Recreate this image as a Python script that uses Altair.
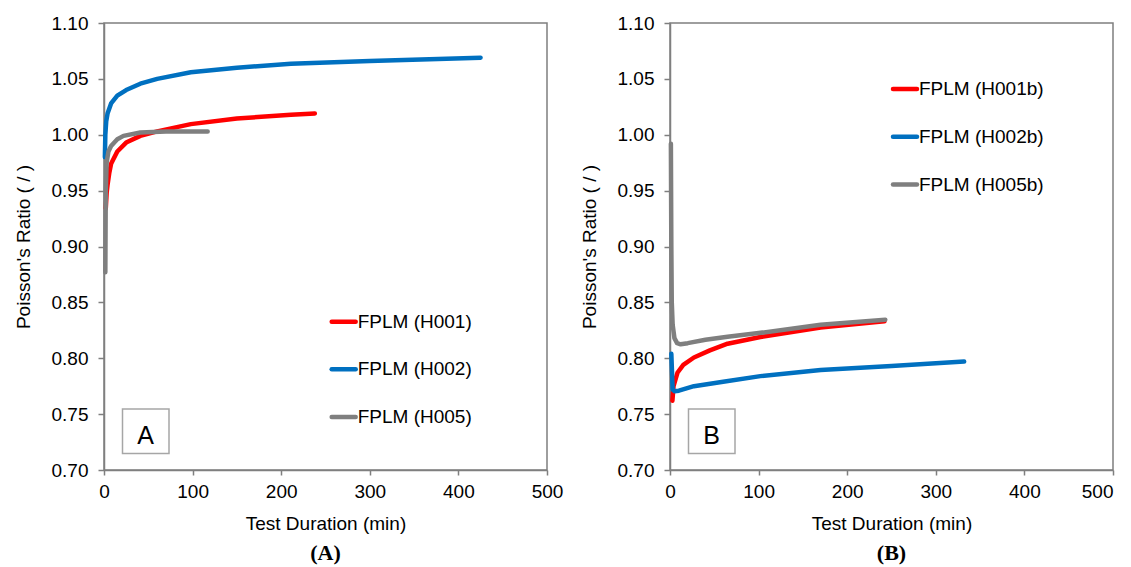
import altair as alt
import pandas as pd

X_TICKS = [0, 100, 200, 300, 400, 500]
Y_TICKS = [0.70, 0.75, 0.80, 0.85, 0.90, 0.95, 1.00, 1.05, 1.10]
X_TITLE = "Test Duration (min)"
Y_TITLE = "Poisson's Ratio ( / )"

COLORS = ["#FF0000", "#0070C0", "#7F7F7F"]
A_NAMES = ["FPLM (H001)", "FPLM (H002)", "FPLM (H005)"]
B_NAMES = ["FPLM (H001b)", "FPLM (H002b)", "FPLM (H005b)"]

# Panel A
A_H001_T = [2, 3, 4, 6, 8, 15, 25, 41, 60, 98, 150, 211, 238]
A_H001_V = [0.934, 0.948, 0.955, 0.966, 0.974, 0.985, 0.993, 0.999, 1.003, 1.0095, 1.0145, 1.018, 1.019]
A_H002_T = [1, 1.5, 2.5, 4, 8, 15, 25, 41, 60, 98, 150, 211, 300, 425]
A_H002_V = [0.98, 1.0, 1.012, 1.019, 1.028, 1.035, 1.040, 1.0457, 1.050, 1.056, 1.060, 1.0635, 1.066, 1.069]
A_H005_T = [1.5, 2, 3, 5, 8, 15, 22, 41, 70, 117]
A_H005_V = [0.877, 0.95, 0.975, 0.985, 0.99, 0.996, 0.999, 1.002, 1.003, 1.003]

# Panel B
B_H001_T = [2.7, 4, 8.4, 15, 27, 45, 65, 102, 170, 242]
B_H001_V = [0.762, 0.775, 0.787, 0.794, 0.8007, 0.807, 0.813, 0.819, 0.8276, 0.833]
B_H002_T = [1.5, 3, 5, 10, 27, 60, 102, 170, 250, 332]
B_H002_V = [0.804, 0.772, 0.7705, 0.771, 0.775, 0.779, 0.784, 0.7895, 0.793, 0.797]
B_H005_T = [1, 1.5, 2, 3, 5, 8, 12, 20, 40, 65, 100, 170, 243]
B_H005_V = [0.992, 0.90, 0.85, 0.83, 0.818, 0.8135, 0.8125, 0.8135, 0.8165, 0.8193, 0.8225, 0.830, 0.8345]

W, H = 443, 447
FONT = "Liberation Sans"


def panel(names, series, letter, caption, lx, ly, dy, last_right=False):
    rows = []
    for name, (ts, vs) in zip(names, series):
        for k, (t, v) in enumerate(zip(ts, vs)):
            rows.append({"series": name, "t": t, "v": v, "k": k})
    df = pd.DataFrame(rows)
    cscale = alt.Scale(domain=names, range=COLORS)

    xaxis = dict(values=X_TICKS, title=X_TITLE, labelFlush=False)
    if last_right:
        xaxis["labelAlign"] = {"condition": {"test": "datum.value >= 500", "value": "right"}, "value": "center"}

    lines = alt.Chart(df).mark_line(strokeWidth=4.5, strokeCap="round", strokeJoin="round").encode(
        x=alt.X("t:Q", scale=alt.Scale(domain=[0, 500], nice=False), axis=alt.Axis(**xaxis)),
        y=alt.Y("v:Q", scale=alt.Scale(domain=[0.7, 1.1], nice=False, zero=False),
                axis=alt.Axis(values=Y_TICKS, format=".2f", title=Y_TITLE, labelFlush=False)),
        color=alt.Color("series:N", scale=cscale, legend=None),
        order="k:Q",
    )

    one = pd.DataFrame({"a": [0]})
    layers = [lines]
    for i, name in enumerate(names):
        ldf = pd.DataFrame({"series": [name]})
        layers.append(
            alt.Chart(ldf).mark_rule(strokeWidth=4.5, strokeCap="round").encode(
                x=alt.value(lx), x2=alt.value(lx + 24), y=alt.value(ly + i * dy),
                color=alt.Color("series:N", scale=cscale, legend=None),
            )
        )
        layers.append(
            alt.Chart(ldf).mark_text(align="left", baseline="middle", font=FONT, fontSize=19, color="black").encode(
                x=alt.value(lx + 26), y=alt.value(ly + i * dy), text="series:N",
            )
        )
    box = alt.Chart(one).mark_rect(fill="white", stroke="#a6a6a6", strokeWidth=1.5).encode(
        x=alt.value(18.5), x2=alt.value(65), y=alt.value(386), y2=alt.value(430.5)
    )
    box_text = alt.Chart(one).mark_text(align="center", baseline="alphabetic", font=FONT, fontSize=25, color="black").encode(
        x=alt.value(41.7), y=alt.value(420.5), text=alt.value(letter)
    )
    cap = alt.Chart(one).mark_text(align="center", baseline="middle", font="Liberation Serif",
                                   fontWeight="bold", fontSize=22, color="black").encode(
        x=alt.value(W / 2), y=alt.value(529.5), text=alt.value(caption)
    )
    layers += [box, box_text, cap]
    return alt.layer(*layers).properties(width=W, height=H)


pa = panel(A_NAMES, [(A_H001_T, A_H001_V), (A_H002_T, A_H002_V), (A_H005_T, A_H005_V)],
           "A", "(A)", 227.7, 298.7, 47.6)
pb = panel(B_NAMES, [(B_H001_T, B_H001_V), (B_H002_T, B_H002_V), (B_H005_T, B_H005_V)],
           "B", "(B)", 223, 66, 47.8, last_right=True)

chart = alt.hconcat(pa, pb, spacing=123, bounds="flush").resolve_scale(color="independent").properties(
    padding={"left": 5, "top": 5, "right": 0, "bottom": 0}
).configure_view(stroke="#7f7f7f", strokeWidth=1.5).configure_axis(
    labelFont=FONT, labelFontSize=19, labelColor="black",
    titleFont=FONT, titleFontSize=19, titleFontWeight="normal", titleColor="black",
    domainColor="#7f7f7f", domainWidth=1.5, tickColor="#7f7f7f", tickWidth=1.5, grid=False,
).configure_axisX(tickSize=5, labelPadding=7, titlePadding=13).configure_axisY(
    tickSize=6, labelPadding=10, titlePadding=18
)

chart.save("out.html", embed_options={"renderer": "svg", "actions": False})
